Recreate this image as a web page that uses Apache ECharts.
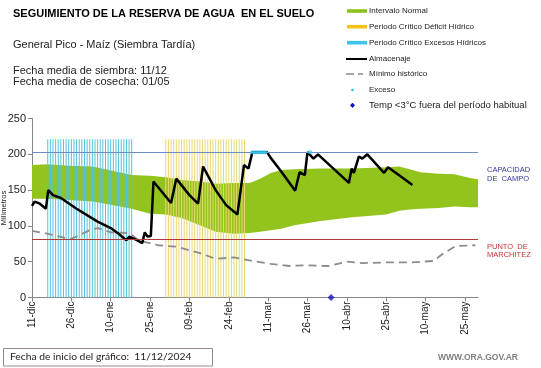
<!DOCTYPE html>
<html><head><meta charset="utf-8">
<script src="https://cdn.jsdelivr.net/npm/echarts@6/dist/echarts.min.js"></script>
<style>html,body{margin:0;padding:0;background:#fff}#c{width:541px;height:368px}</style>
</head><body><div id="c"></div>
<script>
// x values are days counted from 11-dic-2024
const xTickLabels = ['11-dic','26-dic','10-ene','25-ene','09-feb','24-feb','11-mar','26-mar','10-abr','25-abr','10-may','25-may'];
const bandDays  = [0,   6,   14,  23,  28,  38,  45,  51,  57,  64,  70,  77,  83,  87,  91,  95,  100, 110, 122, 135, 140, 144, 148, 155, 161, 167, 170];
const bandUpper = [185, 186, 184, 183, 179, 171, 170, 168, 164, 162, 159, 160, 160, 166, 174, 178, 179, 180, 180, 182, 183, 179, 175, 173, 172, 167, 165];
const bandLower = [138, 138, 136, 134, 131, 124, 117, 116, 111, 101, 92,  89,  90,  92,  94,  96,  101, 107, 112, 116, 121, 123, 124, 125, 127, 126, 126];
const almacenaje = [[0,128],[1,134],[3,131],[5.3,124],[6.2,150],[8,143],[11,139],[17,124],[25,106],[30,97],[33,89],[36,80],[37,85],[40,80],[42,76],[43,91],[44,85],[45.3,86],[46.3,162],[53,132],[55,166],[60,143],[63.3,131],[65.2,183],[70,150],[74,129],[78.3,116],[80.8,185],[82.5,180],[84,203],[89.6,203],[91,195],[95,176],[100.3,149],[102,175],[104,171],[105,203],[107.3,194],[109,200],[120.8,160],[121.8,180],[122.7,174],[124.6,197],[125.9,194],[127.8,200],[134.2,174],[135.7,182],[140.6,169],[145,157]];
const minimoHistorico = [[0,93],[6,89],[13,83],[15,82],[17.5,86],[22,94],[25,97],[30,91],[37,90],[41,79],[45,76],[48,73],[55,71],[64,62],[70,54],[77,56],[84,51],[91,47],[98,44],[104,45],[113,44],[120,50],[126,48],[135,49],[144,49],[153,51],[157,62],[161.6,72],[169,73]];
const excesoPoints = [[84,203],[85,203],[86,203],[87,203],[88,203],[89,203],[106,203]];
const tempPoints = [[114,0]];
const capacidadCampo = 203;
const puntoMarchitez = 81;
const periodoExcesos = [6, 38];
const periodoDeficit = [51, 81];
const periodoAltura = 221;

function stripes(range){ const out=[]; for(let d=range[0]; d<=range[1]; d++) out.push([d, periodoAltura]); return out; }

const FONT = '"Liberation Sans", Arial, sans-serif';
const chart = echarts.init(document.getElementById('c'));

const legendRows = [11, 26.7, 42.7, 59, 74, 90, 105.3];
const legendTexts = ['Intervalo Normal','Periodo Crítico Déficit Hídrico','Periodo Crítico Excesos Hídricos','Almacenaje','Mínimo histórico','Exceso','Temp <3°C fuera del período habitual'];
const graphics = [
  {type:'text', x:13, y:14, style:{text:'SEGUIMIENTO DE LA RESERVA DE AGUA  EN EL SUELO', font:'bold 11px '+FONT, fill:'#000', verticalAlign:'middle'}},
  {type:'text', x:13, y:45, style:{text:'General Pico - Maíz (Siembra Tardía)', font:'11px '+FONT, fill:'#222', verticalAlign:'middle'}},
  {type:'text', x:13, y:71, style:{text:'Fecha media de siembra: 11/12', font:'11px '+FONT, fill:'#222', verticalAlign:'middle'}},
  {type:'text', x:13, y:81.7, style:{text:'Fecha media de cosecha: 01/05', font:'11px '+FONT, fill:'#222', verticalAlign:'middle'}},
  // legend symbols
  {type:'rect', shape:{x:347, y:legendRows[0]-1.8, width:20, height:3.6}, style:{fill:'#8cc21c'}},
  {type:'rect', shape:{x:347, y:legendRows[1]-1.8, width:20, height:3.6}, style:{fill:'#f4c21a'}},
  {type:'rect', shape:{x:347, y:legendRows[2]-1.8, width:20, height:3.6}, style:{fill:'#3cc6ea'}},
  {type:'line', shape:{x1:346, y1:legendRows[3], x2:367, y2:legendRows[3]}, style:{stroke:'#000', lineWidth:2}},
  {type:'line', shape:{x1:346, y1:legendRows[4], x2:354, y2:legendRows[4]}, style:{stroke:'#8a8a8a', lineWidth:1.5}},
  {type:'line', shape:{x1:358, y1:legendRows[4], x2:363, y2:legendRows[4]}, style:{stroke:'#8a8a8a', lineWidth:1.5}},
  {type:'circle', shape:{cx:352.5, cy:legendRows[5], r:1.3}, style:{fill:'#33c6ec'}},
  {type:'polygon', shape:{points:[[352.5,legendRows[6]-2.6],[355,legendRows[6]],[352.5,legendRows[6]+2.6],[350,legendRows[6]]]}, style:{fill:'#1414c0'}},
  // right labels
  {type:'text', x:487, y:170, style:{text:'CAPACIDAD', font:'7.5px '+FONT, fill:'#3535a5', verticalAlign:'middle'}},
  {type:'text', x:487, y:179, style:{text:'DE  CAMPO', font:'7.5px '+FONT, fill:'#3535a5', verticalAlign:'middle'}},
  {type:'text', x:487, y:246.5, style:{text:'PUNTO  DE', font:'7.5px '+FONT, fill:'#c23535', verticalAlign:'middle'}},
  {type:'text', x:487, y:255, style:{text:'MARCHITEZ', font:'7.5px '+FONT, fill:'#c23535', verticalAlign:'middle'}},
  // footer
  {type:'rect', shape:{x:3.5, y:348.5, width:209, height:17.5}, style:{fill:'#fff', stroke:'#9a8888', lineWidth:1}},
  {type:'text', x:10, y:357, style:{text:'Fecha de inicio del gráfico:  11/12/2024', font:'10.3px Lato, "Open Sans", sans-serif', fill:'#222', verticalAlign:'middle'}},
  {type:'text', x:518, y:358, style:{text:'WWW.ORA.GOV.AR', font:'bold 8.5px '+FONT, fill:'#808080', verticalAlign:'middle', align:'right'}}
];
legendTexts.forEach((t,i)=>{
  graphics.push({type:'text', x:369, y:legendRows[i], style:{text:t, font:(i===6?'9.5px ':'8px ')+FONT, fill:'#222', verticalAlign:'middle'}});
});

chart.setOption({
  animation:false,
  textStyle:{fontFamily:FONT},
  grid:{left:32, right:63, top:118.5, bottom:70.5, containLabel:false, outerBoundsMode:'none'},
  xAxis:{type:'value', min:0, max:170, interval:15, splitLine:{show:false},
    axisLine:{show:true, onZero:false, lineStyle:{color:'#868686', width:1}},
    axisTick:{show:true, length:4, lineStyle:{color:'#868686'}},
    axisLabel:{rotate:90, fontSize:10, color:'#222', margin:4, showMaxLabel:false,
      formatter:v=>{const i=Math.round(v/15); return (v%15===0 && xTickLabels[i])?xTickLabels[i]:'';}}},
  yAxis:{type:'value', min:0, max:250, interval:50, splitLine:{show:false},
    axisLine:{show:true, lineStyle:{color:'#868686', width:1}},
    axisTick:{show:true, length:4, lineStyle:{color:'#868686'}},
    axisLabel:{fontSize:11, color:'#222', margin:6},
    name:'Milímetros', nameLocation:'middle', nameGap:24, nameMoveOverlap:false,
    nameTextStyle:{fontSize:7.5, color:'#222'}},
  graphic:graphics,
  series:[
    {type:'custom', name:'Intervalo Normal', z:1, silent:true,
      data:bandDays.map((d,i)=>[d,bandLower[i],bandUpper[i]]), encode:{x:0, y:[1,2]},
      renderItem:(params, api)=>{
        if (params.dataIndexInside!==0) return null;
        const pts=[];
        for (let i=0;i<bandDays.length;i++) pts.push(api.coord([bandDays[i], bandUpper[i]]));
        for (let i=bandDays.length-1;i>=0;i--) pts.push(api.coord([bandDays[i], bandLower[i]]));
        return {type:'polygon', shape:{points:pts}, style:{fill:'#92c41d'}};
      }},
    {type:'bar', name:'Periodo Crítico Excesos Hídricos', z:2, barWidth:1, barGap:'-100%', silent:true,
      itemStyle:{color:'#52c3dc'}, data:stripes(periodoExcesos)},
    {type:'bar', name:'Periodo Crítico Déficit Hídrico', z:2, barWidth:1, barGap:'-100%', silent:true,
      itemStyle:{color:'#ead772'}, data:stripes(periodoDeficit)},
    {type:'line', name:'Mínimo histórico', z:3, symbol:'none', data:minimoHistorico,
      lineStyle:{color:'#8c8c8c', width:1.8, type:[8,5]},
      markLine:{silent:true, symbol:'none', label:{show:false},
        data:[{yAxis:capacidadCampo, lineStyle:{color:'#6f8cc4', width:1, type:'solid'}},
              {yAxis:puntoMarchitez, lineStyle:{color:'#b03a3a', width:1, type:'solid'}}]}},
    {type:'line', name:'Almacenaje', z:4, symbol:'none', data:almacenaje,
      lineStyle:{color:'#000', width:2.5}},
    {type:'scatter', name:'Exceso', z:5, symbol:'circle', symbolSize:4, data:excesoPoints,
      itemStyle:{color:'#33c6ec'}},
    {type:'scatter', name:'Temp', z:6, symbol:'diamond', symbolSize:7, clip:false, data:tempPoints,
      itemStyle:{color:'#1414c0'}}
  ]
});
</script></body></html>
